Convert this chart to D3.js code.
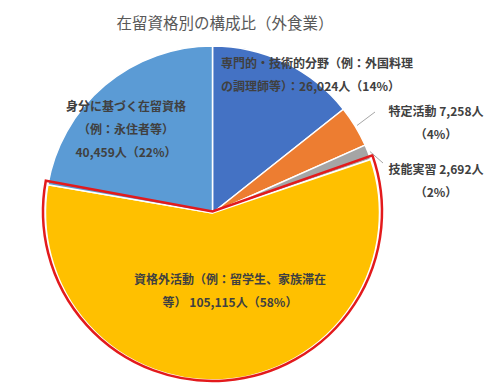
<!DOCTYPE html>
<html><head><meta charset="utf-8">
<script src="https://cdn.jsdelivr.net/npm/d3@7"></script>
<style>body{margin:0;background:#fff}svg{display:block}</style>
</head><body>
<svg id="c" width="497" height="388"></svg>
<script>
const categories = ["専門的・技術的分野（例：外国料理の調理師等）", "特定活動", "技能実習", "資格外活動（例：留学生、家族滞在等）", "身分に基づく在留資格（例：永住者等）"];
const values = [26024, 7258, 2692, 105115, 40459];
const percents = ["14%", "4%", "2%", "58%", "22%"];
const colors = ["#4472C4", "#ED7D31", "#A5A5A5", "#FFC000", "#5B9BD5"];
const title = "在留資格別の構成比（外食業）";

const svg = d3.select("#c");
const cx = 212.5, cy = 213, R = 167;
const fmt = d3.format(",");
const font = "'Noto Sans CJK JP', 'Noto Sans', sans-serif";

svg.append("text").attr("x", 225).attr("y", 22).attr("text-anchor", "middle")
  .attr("dominant-baseline", "central").attr("font-family", font).attr("font-size", 15.5)
  .attr("fill", "#595959").text(title);

const pie = d3.pie().sort(null).value(d => d)(values);
const arc = d3.arc().innerRadius(0).outerRadius(R);
const g = svg.append("g").attr("transform", `translate(${cx},${cy})`);
g.selectAll("path.s").data(pie).join("path").attr("class", "s")
  .attr("d", arc).attr("fill", (d, i) => colors[i])
  .attr("stroke", "#fff").attr("stroke-width", 1.5).attr("stroke-linejoin", "round");

// red highlight outline around the largest slice
const hi = pie[3];
const arcHi = d3.arc().innerRadius(0).outerRadius(R + 2.5)
  .startAngle(hi.startAngle - 0.012).endAngle(hi.endAngle + 0.012);
g.append("path").attr("d", arcHi()).attr("fill", "none").attr("stroke", "#E31A1C")
  .attr("stroke-width", 2.5).attr("stroke-linejoin", "miter")
  .attr("transform", "translate(0,-1.5)");

// leader lines for small slices
function pt(a, r) { return [Math.sin(a) * r, -Math.cos(a) * r]; }
const leaders = [
  { i: 1, end: [375 - cx, 112 - cy] },
  { i: 2, end: [383 - cx, 163 - cy] }
];
leaders.forEach(l => {
  const d = pie[l.i];
  const a = (d.startAngle + d.endAngle) / 2;
  const p = pt(a, R + 2);
  g.append("path").attr("d", d3.line()([p, l.end])).attr("stroke", "#A6A6A6")
    .attr("stroke-width", 1).attr("fill", "none");
});

const lbl = [
  { lines: ["専門的・技術的分野（例：外国料理", `の調理師等）：${fmt(values[0])}人（${percents[0]}）`], x: 221, y: 62, anchor: "start" },
  { lines: [`特定活動 ${fmt(values[1])}人`, `（${percents[1]}）`], x: 436, y: 110, anchor: "middle" },
  { lines: [`技能実習 ${fmt(values[2])}人`, `（${percents[2]}）`], x: 436, y: 168, anchor: "middle" },
  { lines: ["資格外活動（例：留学生、家族滞在", `等） ${fmt(values[3])}人（${percents[3]}）`], x: 230, y: 278, anchor: "middle" },
  { lines: ["身分に基づく在留資格", "（例：永住者等）", `${fmt(values[4])}人（${percents[4]}）`], x: 126, y: 105, anchor: "middle" }
];
lbl.forEach(L => {
  L.lines.forEach((t, k) => {
    svg.append("text").attr("x", L.x).attr("y", L.y + k * 23)
      .attr("text-anchor", L.anchor).attr("dominant-baseline", "central")
      .attr("font-family", font).attr("font-size", 12).attr("font-weight", "bold")
      .attr("fill", "#404040").text(t);
  });
});
</script>
</body></html>
